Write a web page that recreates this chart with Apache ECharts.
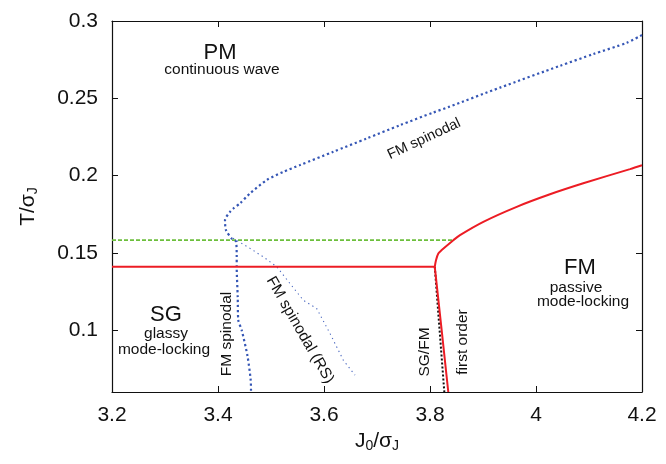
<!DOCTYPE html>
<html>
<head>
<meta charset="utf-8">
<script src="https://cdn.jsdelivr.net/npm/echarts@6/dist/echarts.min.js"></script>
<style>
  html, body { margin: 0; padding: 0; background: #fff; }
  #phase { width: 666px; height: 464px; }
</style>
</head>
<body>
<div id="phase"></div>
<script>
// tick labels
const xTicks = [3.2, 3.4, 3.6, 3.8, 4.0, 4.2];
const yTicks = [0.1, 0.15, 0.2, 0.25, 0.3];

// red transition lines
const redFlat = [[3.2, 0.141], [3.809, 0.141]];
const redLow = [[3.809, 0.141], [3.822, 0.1], [3.8345, 0.06]];
const redHigh = [
  [3.809, 0.141], [3.8113, 0.1453], [3.8157, 0.1496], [3.8221, 0.1518],
  [3.844, 0.1582], [3.8566, 0.1615], [3.9006, 0.1701], [3.9636, 0.1798],
  [4.0264, 0.1879], [4.0892, 0.195], [4.1774, 0.2042], [4.2, 0.2067]
];
// green dashed line
const greenDash = [[3.2, 0.1582], [3.844, 0.1582]];
// black dotted "first order"
const firstOrder = [[3.809, 0.141], [3.827, 0.06]];
// FM spinodal (thick blue dots)
const fmSpinodal = [
  [4.2, 0.2909], [4.1711, 0.2859], [4.1081, 0.2786], [4.0453, 0.271],
  [3.9321, 0.2569], [3.8345, 0.2443], [3.8062, 0.2408], [3.7434, 0.2326],
  [3.6806, 0.224], [3.6175, 0.2154], [3.5547, 0.2068], [3.5232, 0.2024],
  [3.4919, 0.1971], [3.4604, 0.1885], [3.4415, 0.182], [3.4289, 0.1787],
  [3.4226, 0.1765], [3.4132, 0.1712], [3.4151, 0.1647], [3.4258, 0.1593],
  [3.434, 0.1573], [3.4353, 0.1474], [3.4353, 0.141], [3.4372, 0.1215],
  [3.4383, 0.1065], [3.4447, 0.1], [3.4557, 0.0832], [3.4617, 0.0677],
  [3.4623, 0.06]
];
// FM spinodal (RS), thin blue dots
const fmSpinodalRS = [
  [3.4283, 0.1595], [3.4604, 0.1529], [3.4855, 0.1474], [3.5108, 0.141],
  [3.5358, 0.1302], [3.5609, 0.1194], [3.5862, 0.114], [3.6113, 0.0979],
  [3.6364, 0.0806], [3.6585, 0.0709]
];

const FONT = "'Liberation Sans', Arial, sans-serif";
const ink = "#111";

const phaseChart = echarts.init(document.getElementById("phase"));

const frameX = (pos, label) => ({
  type: "value",
  position: pos,
  min: 3.2,
  max: 4.2,
  axisLine: { show: true, onZero: false, lineStyle: { color: ink, width: 1.2 } },
  axisTick: { show: true, inside: true, length: 6, customValues: xTicks, lineStyle: { color: ink } },
  axisLabel: {
    show: label,
    customValues: xTicks,
    margin: 13,
    fontSize: 21,
    fontFamily: FONT,
    color: ink,
    formatter: (v) => String(Math.round(v * 10) / 10),
  },
  splitLine: { show: false },
});

const frameY = (pos, label) => ({
  type: "value",
  position: pos,
  min: 0.06,
  max: 0.3,
  axisLine: { show: true, onZero: false, lineStyle: { color: ink, width: 1.2 } },
  axisTick: { show: true, inside: true, length: 6, customValues: yTicks, lineStyle: { color: ink } },
  axisLabel: {
    show: label,
    customValues: yTicks,
    margin: 14,
    fontSize: 21,
    fontFamily: FONT,
    color: ink,
    formatter: (v) => String(Math.round(v * 100) / 100),
  },
  splitLine: { show: false },
});

const xBottom = frameX("bottom", true);
xBottom.name = "{m|J}{s|0}{m|/σ}{s|J}";
xBottom.nameLocation = "middle";
xBottom.nameGap = 36;
xBottom.nameTextStyle = {
  color: ink,
  rich: {
    m: { fontSize: 21, fontFamily: FONT, color: ink },
    s: { fontSize: 14, fontFamily: FONT, color: ink, padding: [10, 0, 0, 0] },
  },
};

const yLeft = frameY("left", true);
yLeft.name = "{m|T/σ}{s|J}";
yLeft.nameLocation = "middle";
yLeft.nameRotate = 90;
yLeft.nameGap = 72;
yLeft.nameTextStyle = {
  color: ink,
  rich: {
    m: { fontSize: 21, fontFamily: FONT, color: ink },
    s: { fontSize: 14, fontFamily: FONT, color: ink, padding: [10, 0, 0, 0] },
  },
};

const line = (data, color, width, type, z, smooth) => ({
  type: "line",
  data: data,
  showSymbol: false,
  symbol: "none",
  smooth: smooth || false,
  z: z || 2,
  lineStyle: { color: color, width: width, type: type },
});

const txt = (text, x, y, size, rot) => ({
  type: "text",
  x: x,
  y: y,
  rotation: ((rot || 0) * Math.PI) / 180,
  style: {
    text: text,
    fontSize: size,
    fontFamily: FONT,
    fill: ink,
    align: "center",
    verticalAlign: "middle",
  },
  z: 10,
});

const option = {
  animation: false,
  grid: { left: 112, right: 24, top: 21, bottom: 72, containLabel: false },
  xAxis: [xBottom, frameX("top", false)],
  yAxis: [yLeft, frameY("right", false)],
  series: [
    line(greenDash, "#6cbf3c", 1.8, [4, 2], 1),
    line(firstOrder, "#111", 2, [2, 2], 1),
    line(fmSpinodal, "#3556b5", 2.2, [2.2, 2.8], 2, 0.25),
    line(fmSpinodalRS, "#4a68c0", 1.1, [1.3, 3.5], 2),
    line(redFlat, "#ec1c24", 2, "solid", 3),
    line(redLow, "#ec1c24", 2, "solid", 3),
    line(redHigh, "#ec1c24", 2, "solid", 3, 0.3),
  ],
  graphic: [
    txt("PM", 220, 53, 22),
    txt("continuous wave", 222, 70, 15.5),
    txt("FM spinodal", 424, 139, 14.5, 25),
    txt("SG", 166, 315, 22),
    txt("glassy", 166, 334, 15.5),
    txt("mode-locking", 164, 350, 15.5),
    txt("FM spinodal", 227, 334, 15.5, 90),
    txt("FM spinodal (RS)", 300, 330, 15.5, -60),
    txt("SG/FM", 425, 352, 15.5, 90),
    txt("first order", 463, 342, 15.5, 90),
    txt("FM", 580, 268, 22),
    txt("passive", 576, 288, 15.5),
    txt("mode-locking", 583, 302, 15.5),
  ],
};

phaseChart.setOption(option);

window.addEventListener("resize", () => phaseChart.resize());
</script>
</body>
</html>
